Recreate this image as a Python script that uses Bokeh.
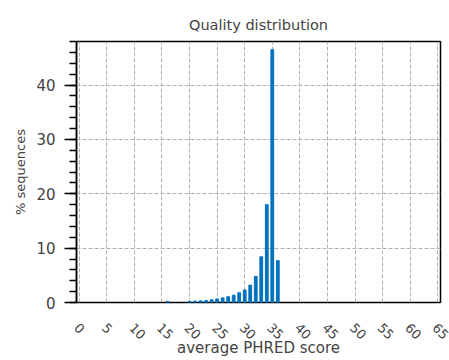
import math
from bokeh.plotting import figure
from bokeh.models import Range1d, FixedTicker, LinearAxis, Grid
from bokeh.embed import file_html
from bokeh.resources import INLINE

scores = [16, 20, 21, 22, 23, 24, 25, 26, 27, 28, 29, 30, 31, 32, 33, 34, 35, 36]
percent = [0.2, 0.2, 0.25, 0.3, 0.35, 0.5, 0.65, 0.85, 1.05, 1.35, 1.8, 2.3, 3.2, 4.8, 8.4, 18.0, 46.5, 7.7]
x_ticks = list(range(0, 70, 5))
y_ticks = [0, 10, 20, 30, 40]

FONT = "DejaVu Sans"
X0, X1 = -0.5, 65.5
LABEL_SHIFT = 0.5  # tick labels sit slightly left of their tick (in data units)

p = figure(width=449, height=360, output_backend="svg", toolbar_location=None,
           x_range=Range1d(X0, X1), y_range=Range1d(0, 48),
           x_axis_location=None,
           min_border_left=76, min_border_right=9, min_border_top=41, min_border_bottom=58,
           title="Quality distribution")
p.extra_x_ranges = {"lab": Range1d(X0 + LABEL_SHIFT, X1 + LABEL_SHIFT)}

p.vbar(x=scores, top=percent, width=0.5, color="#0072BD")

p.title.align = "center"
p.title.text_font = FONT
p.title.text_font_size = "14.5px"
p.title.text_font_style = "normal"
p.title.offset = 0
p.title.standoff = 18

p.outline_line_color = "black"
p.outline_line_width = 1.5
p.outline_line_alpha = 1

xa = LinearAxis(x_range_name="lab")
xa.ticker = FixedTicker(ticks=x_ticks)
xa.major_label_orientation = -math.pi / 4
xa.major_tick_out = 0
xa.major_tick_in = 0
xa.minor_tick_out = 0
xa.minor_tick_in = 0
xa.axis_line_color = None
xa.axis_label = "average PHRED score"
xa.major_label_text_font = FONT
xa.major_label_text_font_size = "13px"
xa.major_label_standoff = 23
xa.axis_label_text_font = FONT
xa.axis_label_text_font_size = "15px"
xa.axis_label_text_font_style = "normal"
xa.axis_label_standoff = -8
p.add_layout(xa, "below")

ya = p.yaxis[0]
ya.ticker = FixedTicker(ticks=y_ticks, minor_ticks=[v for v in range(0, 49, 2)])
ya.major_tick_out = 12
ya.major_tick_in = 0
ya.minor_tick_out = 7
ya.minor_tick_in = 0
ya.axis_line_width = 1.5
ya.major_tick_line_width = 1.5
ya.minor_tick_line_width = 1.5
ya.axis_label = "% sequences"
ya.major_label_text_font = FONT
ya.major_label_text_font_size = "15px"
ya.axis_label_text_font = FONT
ya.axis_label_text_font_size = "13px"
ya.axis_label_text_font_style = "normal"
ya.major_label_standoff = 9

p.xgrid.grid_line_color = None
xg = Grid(dimension=0, ticker=FixedTicker(ticks=x_ticks))
p.add_layout(xg, "center")
for g in (xg, p.ygrid[0]):
    g.grid_line_color = "#b0b0b0"
    g.grid_line_dash = "4 2"
    g.grid_line_width = 1
p.ygrid[0].ticker = FixedTicker(ticks=y_ticks)

open("out.html", "w").write(file_html(p, INLINE))
